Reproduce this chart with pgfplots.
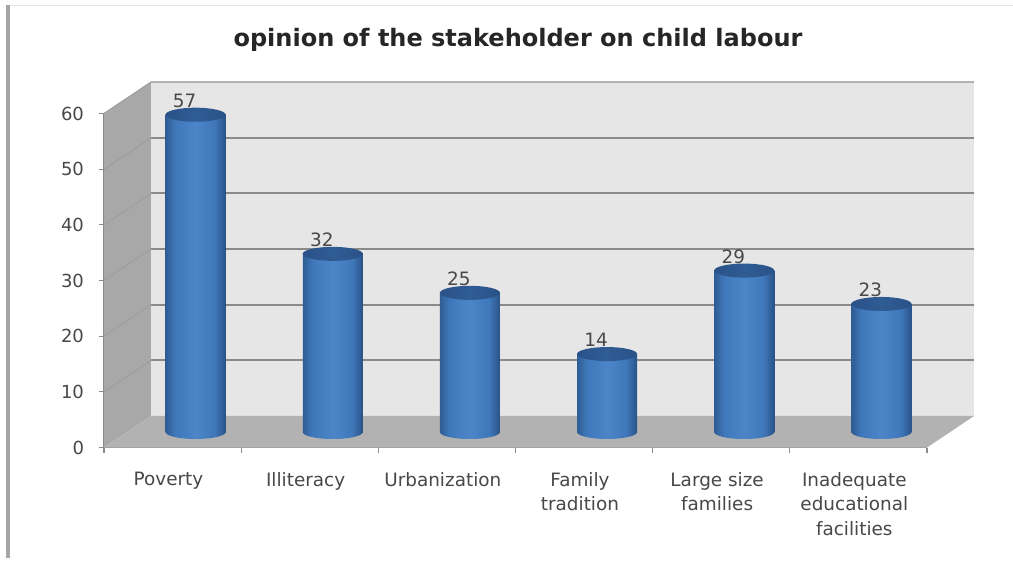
\documentclass[border=0pt]{standalone}
\usepackage{pgfplots}
\usepackage{fontspec}
\setmainfont{DejaVu Sans}
\pgfplotsset{compat=1.18}

\definecolor{wallback}{HTML}{E6E6E6}
\definecolor{wallside}{HTML}{A8A8A8}
\definecolor{floorgrey}{HTML}{B2B2B2}
\definecolor{gridgrey}{HTML}{8A8A8A}
\definecolor{labelgrey}{HTML}{484848}

% One picture pixel is 0.75pt throughout.
\definecolor{cylA}{HTML}{2F5C94}
\definecolor{cylB}{HTML}{3F78BA}
\definecolor{cylC}{HTML}{4C86C8}
\definecolor{cylD}{HTML}{2A5288}
\pgfdeclarehorizontalshading{cylbody}{100bp}{
  color(0bp)=(cylA);
  color(25bp)=(cylA);
  color(33bp)=(cylB);
  color(50bp)=(cylC);
  color(66bp)=(cylB);
  color(75bp)=(cylD);
  color(100bp)=(cylD)}
\pgfdeclarehorizontalshading{cyllid}{100bp}{
  color(0bp)=(cylD);
  color(25bp)=(cylD);
  color(50bp)=(cylA);
  color(75bp)=(cylD);
  color(100bp)=(cylD)}

\pgfdeclareplotmark{cylbase}{\shade[shading=cylbody, draw=none] (0,0) ellipse (22.5pt and 5.25pt);}
\pgfdeclareplotmark{cyltop}{\shade[shading=cyllid, draw=none] (0,0) ellipse (22.5pt and 5.25pt);}

\pgfplotstableread{
pos value
0.5 57
1.5 32
2.5 25
3.5 14
4.5 29
5.5 23
}\opiniontable

\newcommand{\wallgrid}[2]{%
  \draw[gridgrey, line width=1.4pt] (axis cs:0.343,#2) -- (axis cs:6.343,#2);
  \draw[black!38, line width=0.8pt] (axis cs:0,#1) -- (axis cs:0.343,#2);
}

\pgfplotsset{cylinder/.style={ybar, bar width=45pt, draw=none, shading=cylbody, forget plot}}

\begin{document}
\begin{tikzpicture}
\path[use as bounding box, fill=white] (0,0) rectangle (759.75pt,420.75pt);
% page frame
\fill[black!35] (4.5pt,2pt) rectangle (7.5pt,417pt);
\fill[black!10] (7.5pt,416.5pt) rectangle (759.75pt,417pt);
% chart title
\node[font=\fontsize{18}{21}\selectfont\bfseries, text=black!85, anchor=center] at (388.5pt,391pt)
  {opinion of the stakeholder on child labour};

% frame of the chart: walls, floor, ticks and category names
\begin{axis}[
  at={(78pt,85.125pt)}, anchor=origin,
  scale only axis, width=617.25pt, height=250.5pt,
  xmin=0, xmax=6, ymin=0, ymax=60,
  clip=false,
  axis x line*=bottom, axis y line*=left,
  axis line style={gridgrey, line width=1pt, -},
  tick align=outside,
  major tick length=4pt, minor tick length=4pt,
  tick style={gridgrey, line width=0.8pt},
  major x tick style={draw=none},
  xtick={0.47,1.47,2.47,3.47,4.47,5.47},
  minor xtick={0,1,2,3,4,5,6},
  xticklabels={Poverty,Illiteracy,Urbanization,{Family\\tradition},{Large size\\families},{Inadequate\\educational\\facilities}},
  xticklabel style={font=\fontsize{13.8}{18.4}\selectfont, text=labelgrey, align=center, yshift=-11pt},
  ytick={0,10,20,30,40,50,60},
  yticklabel style={font=\fontsize{13.5}{16}\selectfont, text=labelgrey, xshift=-7.5pt},
  /pgf/number format/assume math mode=true,
]
  % side wall, back wall, floor
  \fill[wallside] (axis cs:0,0) -- (axis cs:0.343,5.66) -- (axis cs:0.343,65.66) -- (axis cs:0,60) -- cycle;
  \fill[wallback] (axis cs:0.343,5.66) -- (axis cs:6.343,5.66) -- (axis cs:6.343,65.66) -- (axis cs:0.343,65.66) -- cycle;
  \fill[floorgrey] (axis cs:0,0) -- (axis cs:6,0) -- (axis cs:6.343,5.66) -- (axis cs:0.343,5.66) -- cycle;
  % gridlines along the walls
  \wallgrid{10}{15.66}
  \wallgrid{20}{25.66}
  \wallgrid{30}{35.66}
  \wallgrid{40}{45.66}
  \wallgrid{50}{55.66}
  \draw[black!38, line width=0.8pt] (axis cs:0,60) -- (axis cs:0.343,65.66);
  \draw[black!30, line width=1.4pt] (axis cs:0.343,65.66) -- (axis cs:6.343,65.66);
\end{axis}

% the cylinders stand halfway into the floor's depth
\begin{axis}[
  at={(95.25pt,96.75pt)}, anchor=origin,
  scale only axis, width=617.25pt, height=250.5pt,
  xmin=0, xmax=6, ymin=0, ymax=60,
  clip=false, axis lines=none,
]
  \addplot[only marks, mark=cylbase, forget plot] coordinates {(0.5,0) (1.5,0) (2.5,0) (3.5,0) (4.5,0) (5.5,0)};
  % each cylinder body is its own plot so that it carries its own shading
  \addplot[cylinder] coordinates {(0.5,57)};
  \addplot[cylinder] coordinates {(1.5,32)};
  \addplot[cylinder] coordinates {(2.5,25)};
  \addplot[cylinder] coordinates {(3.5,14)};
  \addplot[cylinder] coordinates {(4.5,29)};
  \addplot[cylinder] coordinates {(5.5,23)};
  \addplot[only marks, mark=cyltop, forget plot,
    nodes near coords, point meta=explicit symbolic,
    every node near coord/.style={font=\fontsize{13.8}{16}\selectfont, text=labelgrey, anchor=center, xshift=-8.25pt, yshift=10.5pt}]
    table[x=pos, y=value, meta=value] {\opiniontable};
\end{axis}
\end{tikzpicture}
\end{document}
